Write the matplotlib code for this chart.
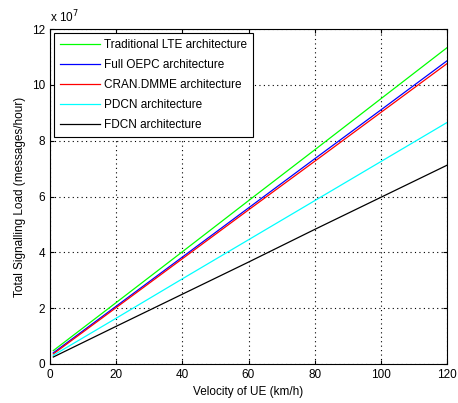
import numpy as np
import matplotlib.pyplot as plt

plt.rcParams['font.family'] = ['Liberation Sans', 'DejaVu Sans']

# velocidad del UE (km/h)
velocity = [1, 20, 40, 60, 80, 100, 120]

# carga de señalización total, en unidades de 1e7 mensajes/hora
lte = [0.48, 2.20, 4.02, 5.85, 7.67, 9.50, 11.33]
oepc = [0.40, 2.07, 3.83, 5.59, 7.35, 9.10, 10.86]
cran = [0.36, 2.02, 3.77, 5.52, 7.26, 9.01, 10.76]
pdcn = [0.31, 1.64, 3.05, 4.45, 5.85, 7.25, 8.65]
fdcn = [0.25, 1.35, 2.50, 3.65, 4.82, 5.97, 7.12]

labels = ['Traditional LTE architecture', 'Full OEPC architecture',
          'CRAN.DMME architecture', 'PDCN architecture', 'FDCN architecture']
colors = ['#00ff00', '#0000ff', '#ff0000', '#00ffff', '#000000']

fig = plt.figure(figsize=(4.58, 4.03), dpi=100)
ax = fig.add_axes([50/458, 1-364/403, 397/458, 335/403])

for serie, lab, col in zip([lte, oepc, cran, pdcn, fdcn], labels, colors):
    ax.plot(velocity, serie, color=col, linewidth=0.9, label=lab)

ax.set_xlim(0, 120)
ax.set_ylim(0, 12)
ax.set_xticks(np.arange(0, 121, 20))
ax.set_yticks(np.arange(0, 13, 2))
ax.tick_params(direction='in', top=True, right=True, labelsize=8.5, length=3)
ax.grid(True, linestyle=(0, (1, 3)), color='k', linewidth=0.8)
for s in ax.spines.values():
    s.set_linewidth(0.8)

ax.set_xlabel('Velocity of UE (km/h)', fontsize=8.5)
ax.set_ylabel('Total Signalling Load (messages/hour)', fontsize=8.5)
ax.text(0.0, 1.01, 'x 10$^7$', transform=ax.transAxes, fontsize=8.5,
        ha='left', va='bottom')

leg = ax.legend(loc='upper left', fontsize=8.5, handlelength=3.4,
                fancybox=False, framealpha=1, edgecolor='k',
                borderaxespad=0.35, labelspacing=0.68, handletextpad=0.3,
                borderpad=0.5)
leg.get_frame().set_linewidth(0.8)

plt.savefig('out.png', dpi=100)
